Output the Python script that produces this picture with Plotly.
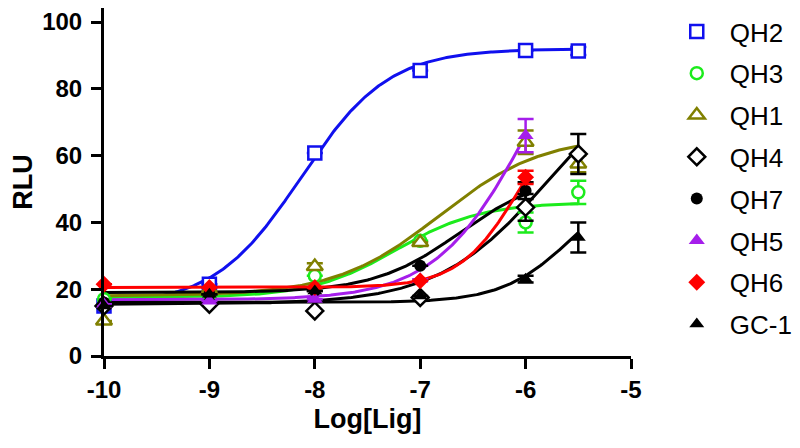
import numpy as np
import plotly.graph_objects as go

# ---- data ----
series_names = ["QH2", "QH3", "QH1", "QH4", "QH7", "QH5", "QH6", "GC-1"]

x_full = [-10, -9, -8, -7, -6, -5.5]
x_short = [-10, -9, -8, -7, -6]

qh2_y = [15.0, 21.5, 60.8, 85.5, 91.5, 91.3]
qh2_err = [0, 0, 0, 0, 0, 1.2]
qh3_y = [17.0, 18.5, 24.0, 34.5, 40.0, 49.0]
qh3_err = [0, 0, 0, 0, 3.0, 3.5]
qh1_y = [10.5, 19.5, 26.8, 34.0, 64.0, 57.5]
qh1_err = [0, 0, 1.0, 0, 3.5, 2.5]
qh4_y = [15.0, 15.5, 13.5, 17.5, 44.5, 60.5]
qh4_err = [0, 0, 0, 0, 4.0, 6.0]
qh7_y = [16.0, 18.5, 19.5, 27.0, 49.5]
qh7_err = [0, 0, 0, 0, 2.5]
qh5_y = [15.5, 16.5, 17.0, 23.0, 66.0]
qh5_err = [0, 0, 0, 0, 5.0]
qh6_y = [21.5, 20.5, 20.5, 22.5, 53.5]
qh6_err = [0, 0, 0, 0, 2.0]
gc1_y = [15.0, 18.5, 19.5, 18.0, 23.0, 35.5]
gc1_err = [0, 0, 0, 0, 1.0, 4.5]

# 4-parameter logistic fit parameters: bottom, top, logEC50, hill
qh2_fit = [15.0, 92.0, -8.13, 1.05]
qh3_fit = [17.5, 46.0, -7.23, 1.08]
qh1_fit = [18.0, 66.0, -6.82, 0.88]
qh4_fit = [15.5, 90.0, -5.78, 0.83]
qh7_fit = [19.0, 55.0, -6.62, 1.06]
qh5_fit = [16.8, 120.0, -5.96, 0.98]
qh6_fit = [20.5, 80.0, -6.05, 1.50]
gc1_fit = [16.0, 55.0, -5.55, 1.30]

x_ticks = [-10, -9, -8, -7, -6, -5]
x_tick_labels = ["-10", "-9", "-8", "-7", "-6", "-5"]
y_ticks = [0, 20, 40, 60, 80, 100]

# ---- styles ----
series = [
    # name, x, y, err, fit, color, symbol, filled, size
    ("QH2", x_full, qh2_y, qh2_err, qh2_fit, "#1010EE", "square", False, 13),
    ("QH3", x_full, qh3_y, qh3_err, qh3_fit, "#1CEB1C", "circle", False, 12),
    ("QH1", x_full, qh1_y, qh1_err, qh1_fit, "#808000", "triangle-up", False, 14),
    ("QH4", x_full, qh4_y, qh4_err, qh4_fit, "#000000", "diamond", False, 13),
    ("QH7", x_short, qh7_y, qh7_err, qh7_fit, "#000000", "circle", True, 12),
    ("QH5", x_short, qh5_y, qh5_err, qh5_fit, "#A51EEB", "triangle-up", True, 14),
    ("QH6", x_short, qh6_y, qh6_err, qh6_fit, "#FF0000", "diamond", True, 13),
    ("GC-1", x_full, gc1_y, gc1_err, gc1_fit, "#000000", "triangle-up", True, 13),
]

FONT = "Liberation Sans, Arial, sans-serif"

fig = go.Figure()

# fitted curves
for name, xs, ys, errs, fit, color, sym, filled, size in series:
    bottom, top, logec50, hill = fit
    xc = np.linspace(xs[0], xs[-1], 300)
    yc = bottom + (top - bottom) / (1 + 10 ** ((logec50 - xc) * hill))
    fig.add_trace(go.Scatter(x=xc, y=yc, mode="lines",
                             line=dict(color=color, width=3),
                             showlegend=False, hoverinfo="skip",
                             cliponaxis=False))

# data points with SEM bars
for name, xs, ys, errs, fit, color, sym, filled, size in series:
    err_arr = [e if e > 0 else None for e in errs]
    fig.add_trace(go.Scatter(
        x=xs, y=ys, mode="markers", name=name, legendgroup=name,
        marker=dict(symbol=sym, size=size,
                    color=color if filled else "white",
                    line=dict(color=color, width=0 if filled else 2.5)),
        error_y=dict(type="data", array=err_arr, visible=True, color=color,
                     thickness=2.5, width=8),
        cliponaxis=False,
    ))

# page body keeps an 8px default margin, so the figure is 8px smaller
fig.update_layout(
    width=792, height=440,
    margin=dict(l=96, r=169, t=0, b=92, autoexpand=False),
    paper_bgcolor="white", plot_bgcolor="white",
    font=dict(family=FONT, color="black"),
    legend=dict(
        x=0.828, xref="container", xanchor="left",
        y=1.0, yref="paper", yanchor="top",
        font=dict(family=FONT, size=26, color="black"),
        itemwidth=56, tracegroupgap=5,
        bgcolor="rgba(0,0,0,0)",
    ),
    xaxis=dict(
        range=[-10, -5], tickvals=x_ticks, ticktext=x_tick_labels,
        showgrid=False, zeroline=False, automargin=False,
        showline=True, linecolor="black", linewidth=3,
        ticks="outside", ticklen=10, tickwidth=3, tickcolor="black",
        tickfont=dict(family=FONT, size=24, color="black", weight="bold"),
        title=dict(text="<b>Log[Lig]</b>", font=dict(family=FONT, size=27), standoff=8),
    ),
    yaxis=dict(
        range=[0, 104.2], tickvals=y_ticks,
        showgrid=False, zeroline=False, automargin=False,
        showline=True, linecolor="black", linewidth=3,
        ticks="outside", ticklen=10, tickwidth=3, tickcolor="black",
        ticklabelstandoff=4,
        tickfont=dict(family=FONT, size=24, color="black", weight="bold"),
        title=dict(text="<b>RLU</b>", font=dict(family=FONT, size=27), standoff=9),
    ),
)

fig.write_html("out.html")
